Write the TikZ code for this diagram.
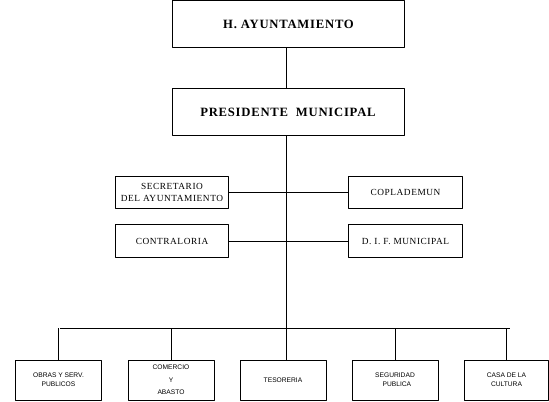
\documentclass[tikz,border=0pt]{standalone}
\usepackage{fontspec}
\setmainfont{Liberation Serif}
\newfontfamily\boxsans{Liberation Sans}
\newfontfamily\boxserif[LetterSpace=6]{Liberation Serif}
\begin{document}
\begin{tikzpicture}[x=0.75pt, y=-0.75pt, line join=round, line width=0.6pt,
		topbox/.style={draw, minimum width=174pt, minimum height=35.5pt, inner sep=0pt, font=\boxserif\fontsize{9.5}{11}\selectfont\bfseries},
		midbox/.style={draw, minimum width=85pt, minimum height=24.5pt, inner sep=0pt, align=center, font=\boxserif\fontsize{7}{8.5}\selectfont},
		lowbox/.style={draw, minimum width=64.5pt, minimum height=30pt, inner sep=0pt, align=center, font=\boxsans\fontsize{5}{7}\selectfont}]
	\useasboundingbox (0,0) rectangle (549,401);
	% upper part
	\node[topbox] (ayto) at (288.5,24) {H. AYUNTAMIENTO};
	\node[topbox] (pres) at (288,112) {PRESIDENTE\ \ MUNICIPAL};
	\node[midbox] (secr) at (172,192.5) {SECRETARIO\\DEL AYUNTAMIENTO};
	\node[midbox] (copla) at (405.5,192.5) {COPLADEMUN};
	\node[midbox] (contra) at (172,241) {CONTRALORIA};
	\node[midbox] (dif) at (405.5,241) {D. I. F. MUNICIPAL};
	% lower part
	\node[lowbox] (obras) at (58.5,380) {OBRAS Y SERV.\\PUBLICOS};
	\node[lowbox, font=\boxsans\fontsize{5}{9.5}\selectfont] (comer) at (171,380) {COMERCIO\\Y\\ABASTO};
	\node[lowbox] (teso) at (283,380) {TESORERIA};
	\node[lowbox] (segu) at (395,380) {SEGURIDAD\\\ \ PUBLICA};
	\node[lowbox, minimum width=62.5pt] (casa) at (506.5,380) {CASA DE LA\\CULTURA};
	\coordinate (trunk) at (286,136);
	\coordinate (busL) at (60,328);
	\coordinate (busR) at (510,328);
	% connectors
	\draw (ayto.south -| trunk) -- (pres.north -| trunk);
	\draw (trunk) -- (trunk |- teso.north);
	\draw (secr.east) -- (copla.west);
	\draw (contra.east) -- (dif.west);
	\draw (busL) -- (busR);
	\foreach \n in {obras,comer,segu,casa} \draw (\n.north) -- (\n.north |- busL);
\end{tikzpicture}
\end{document}
